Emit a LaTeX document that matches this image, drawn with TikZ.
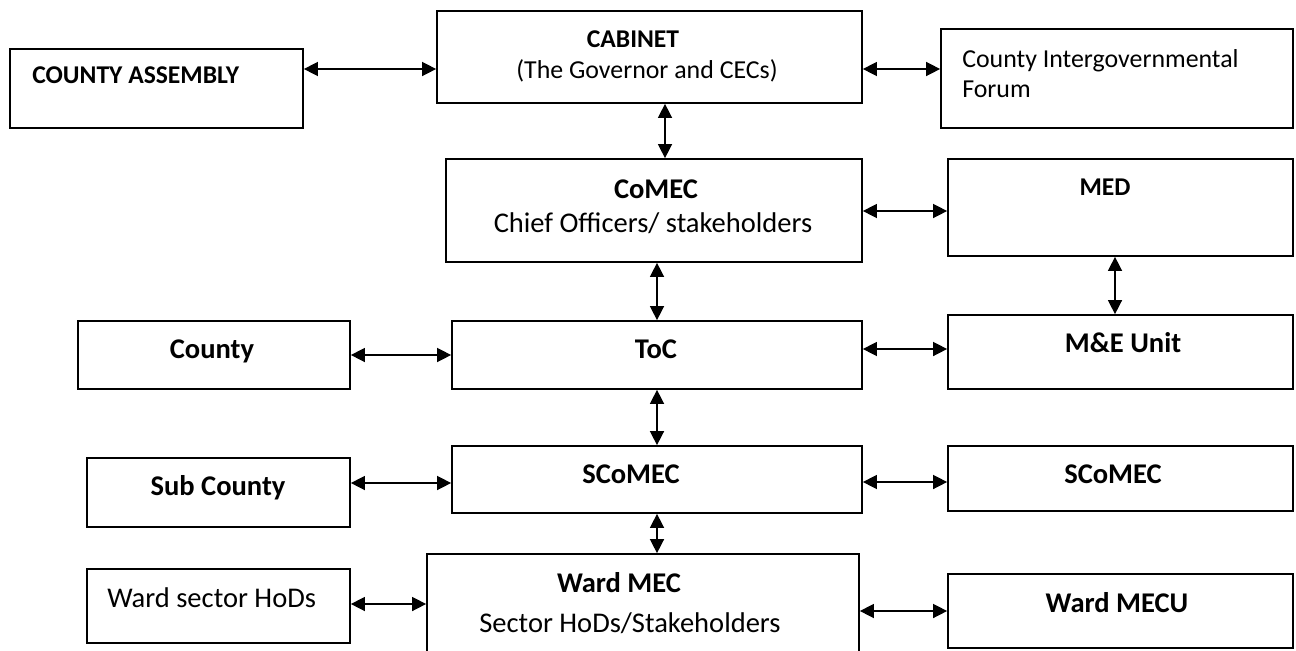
\documentclass[tikz,border=0pt]{standalone}
\usepackage{fontspec}
\setmainfont{Carlito}
\usetikzlibrary{arrows.meta,fit}
\begin{document}
\begin{tikzpicture}[x=0.75pt,y=-0.75pt,
  box/.style={draw,line width=1.3pt,rectangle,inner sep=0pt,fit={#1}},
  txt/.style={font=\fontsize{21.4}{25}\selectfont,inner sep=0pt,anchor=base},
  btxt/.style={txt,font=\fontsize{21.4}{25}\selectfont\bfseries},
  stxt/.style={txt,font=\fontsize{19.4}{24}\selectfont},
  sbtxt/.style={txt,font=\fontsize{19.2}{24}\selectfont\bfseries},
  arr/.style={line width=1.1pt,{Triangle[length=10.5pt,width=10.5pt]}-{Triangle[length=10.5pt,width=10.5pt]}}]
\useasboundingbox (0,0) rectangle (1296,650);
\clip (0,0) rectangle (1296,650);
% boxes
\node[box={(10,49)(303,128)}] (ca) {};
\node[box={(437,11)(862,103)}] (cab) {};
\node[box={(941,29)(1293,128)}] (cif) {};
\node[box={(446,159)(862,262)}] (comec) {};
\node[box={(948,159)(1293,256)}] (med) {};
\node[box={(78,321)(350,389)}] (county) {};
\node[box={(452,321)(862,389)}] (toc) {};
\node[box={(948,315)(1293,389)}] (me) {};
\node[box={(87,458)(350,527)}] (sub) {};
\node[box={(452,446)(862,513)}] (scomec) {};
\node[box={(948,446)(1293,511)}] (scomecr) {};
\node[box={(87,569)(350,643)}] (wsh) {};
\node[box={(427,554)(859,690)}] (wmec) {};
\node[box={(948,574)(1293,648)}] (wmecu) {};
% texts
\node[sbtxt,anchor=base west] (t1) at (32,83) {COUNTY ASSEMBLY};
\node[sbtxt] (t2) at (633,47) {CABINET};
\node[stxt] (t3) at (647,78) {(The Governor and CECs)};
\node[stxt,anchor=base west] (t4) at (962,67) {County Intergovernmental};
\node[stxt,anchor=base west] (t5) at (962,97) {Forum};
\node[btxt] (t6) at (656,198) {CoMEC};
\node[txt] (t7) at (653,232) {Chief Officers/ stakeholders};
\node[sbtxt] (t8) at (1105,195) {MED};
\node[btxt] (t9) at (212,358) {County};
\node[btxt] (t10) at (656,358) {ToC};
\node[btxt] (t11) at (1123,352) {M\&E Unit};
\node[btxt] (t12) at (218,495) {Sub County};
\node[btxt] (t13) at (631,483) {SCoMEC};
\node[btxt] (t14) at (1113,483) {SCoMEC};
\node[txt,anchor=base west] (t15) at (107,607) {Ward sector HoDs};
\node[btxt] (t16) at (619,592) {Ward MEC};
\node[txt] (t17) at (630,632) {Sector HoDs/Stakeholders};
\node[btxt] (t18) at (1117,612) {Ward MECU};
% connectors
\draw[arr] (ca.east |- 0,69) -- (cab.west |- 0,69);
\draw[arr] (cab.east |- 0,69) -- (cif.west |- 0,69);
\draw[arr] (cab.south -| 665,0) -- (comec.north -| 665,0);
\draw[arr] (comec.east |- 0,211) -- (med.west |- 0,211);
\draw[arr] (comec.south -| 657,0) -- (toc.north -| 657,0);
\draw[arr] (med.south -| 1115,0) -- (me.north -| 1115,0);
\draw[arr] (county.east |- 0,355) -- (toc.west |- 0,355);
\draw[arr] (toc.east |- 0,349) -- (me.west |- 0,349);
\draw[arr] (toc.south -| 657,0) -- (scomec.north -| 657,0);
\draw[arr] (sub.east |- 0,483) -- (scomec.west |- 0,483);
\draw[arr] (scomec.east |- 0,482) -- (scomecr.west |- 0,482);
\draw[arr] (scomec.south -| 657,0) -- (wmec.north -| 657,0);
\draw[arr] (wsh.east |- 0,604) -- (wmec.west |- 0,604);
\draw[arr] (wmec.east |- 0,611) -- (wmecu.west |- 0,611);
\end{tikzpicture}
\end{document}
